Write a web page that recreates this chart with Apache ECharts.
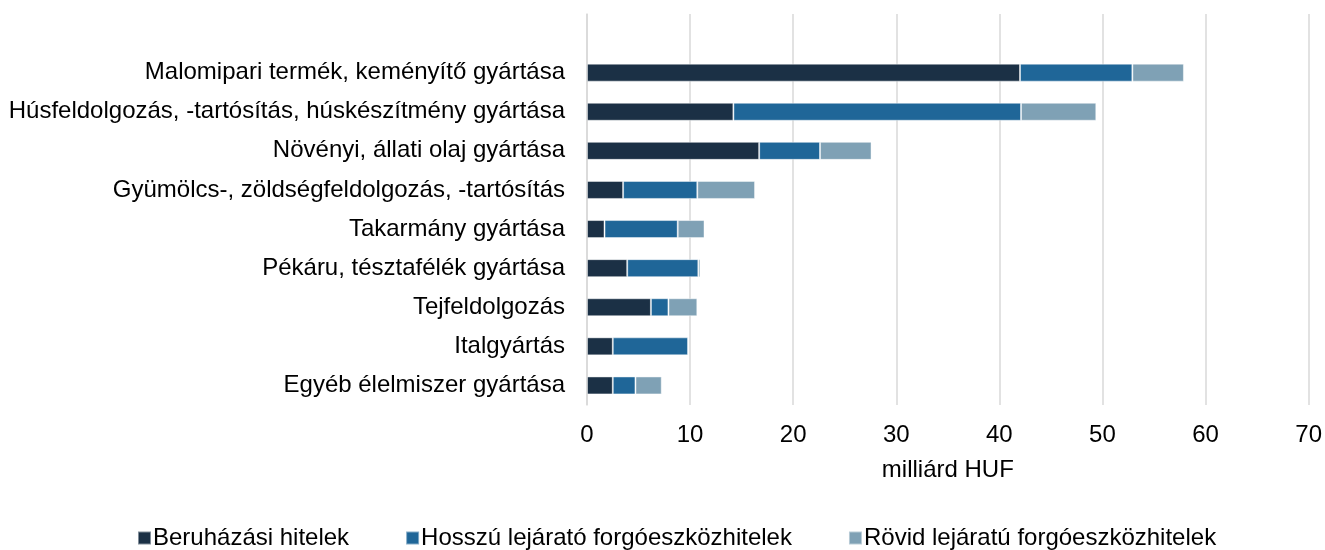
<!DOCTYPE html>
<html>
<head>
<meta charset="utf-8">
<script src="https://cdn.jsdelivr.net/npm/echarts@6/dist/echarts.min.js"></script>
<style>
  html, body { margin: 0; padding: 0; background: #fff; }
  #chart { width: 1325px; height: 550px; }
</style>
</head>
<body>
<div id="chart"></div>
<script>
// Sectors, top to bottom (the leading blank row keeps headroom above the first bar)
const categories = [
  '',
  'Malomipari termék, keményítő gyártása',
  'Húsfeldolgozás, -tartósítás, húskészítmény gyártása',
  'Növényi, állati olaj gyártása',
  'Gyümölcs-, zöldségfeldolgozás, -tartósítás',
  'Takarmány gyártása',
  'Pékáru, tésztafélék gyártása',
  'Tejfeldolgozás',
  'Italgyártás',
  'Egyéb élelmiszer gyártása'
];

// Loan stock by type, billion HUF
const beruhazasi = [null, 42.0, 14.2, 16.7, 3.5, 1.7, 3.9, 6.2, 2.5, 2.5];
const hosszu     = [null, 10.9, 27.9, 5.9, 7.2, 7.1, 6.9, 1.7, 7.3, 2.2];
const rovid      = [null, 5.0, 7.3, 5.0, 5.6, 2.6, 0.2, 2.8, 0.1, 2.55];

const seriesNames = ['Beruházási hitelek', 'Hosszú lejárató forgóeszközhitelek', 'Rövid lejáratú forgóeszközhitelek'];
const xTicks = [0, 10, 20, 30, 40, 50, 60, 70];

const colors = ['#1b3045', '#1f6698', '#7fa1b5'];
const font = 'Liberation Sans, Arial, sans-serif';
const fs = 24;

const chart = echarts.init(document.getElementById('chart'), null, { renderer: 'canvas' });

const mkSeries = (name, data, color) => ({
  name,
  type: 'bar',
  stack: 'total',
  data,
  barWidth: '46%',
  itemStyle: { color, borderColor: 'rgba(255,255,255,0.45)', borderWidth: 1 },
  emphasis: { disabled: true }
});

chart.setOption({
  animation: false,
  textStyle: { fontFamily: font },
  grid: { left: 587, right: 13, top: 14, bottom: 145, containLabel: false },
  xAxis: {
    type: 'value',
    min: xTicks[0],
    max: xTicks[xTicks.length - 1],
    interval: 10,
    name: 'milliárd HUF',
    nameLocation: 'middle',
    nameGap: 53,
    nameTextStyle: { fontSize: fs, color: '#000', fontFamily: font },
    axisLine: { show: false },
    axisTick: { show: false },
    axisLabel: { fontSize: fs, color: '#000', margin: 18, fontFamily: font },
    splitLine: { lineStyle: { color: '#d9d9d9', width: 1.5 } }
  },
  yAxis: {
    type: 'category',
    data: categories,
    inverse: true,
    axisLine: { show: true, lineStyle: { color: '#d9d9d9', width: 1.5 } },
    axisTick: { show: false },
    axisLabel: { fontSize: fs, color: '#000', margin: 22, fontFamily: font },
    splitLine: { show: false }
  },
  legend: {
    bottom: -5,
    left: 132,
    itemWidth: 13,
    itemHeight: 13,
    itemGap: 56,
    icon: 'rect',
    textStyle: { fontSize: fs, color: '#000', fontFamily: font, padding: [0, 0, 0, -3] },
    data: seriesNames
  },
  series: [
    mkSeries(seriesNames[0], beruhazasi, colors[0]),
    mkSeries(seriesNames[1], hosszu, colors[1]),
    mkSeries(seriesNames[2], rovid, colors[2])
  ]
});
</script>
</body>
</html>
